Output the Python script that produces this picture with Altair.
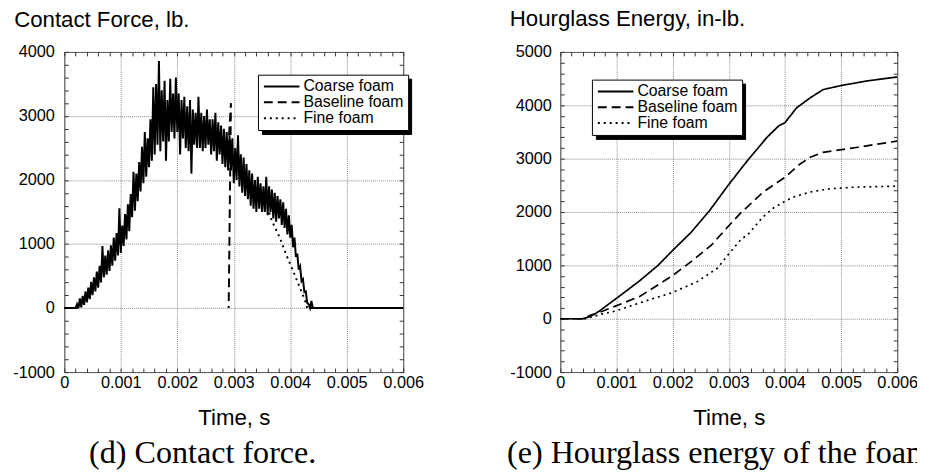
import altair as alt
import pandas as pd

SANS = "Liberation Sans, Arial, Helvetica, sans-serif"
SERIF = "Liberation Serif, Times New Roman, serif"
FRAME = "#333333"
GRID = "#8a8a8a"
TICK = 4

SERIES = ["Coarse foam", "Baseline foam", "Fine foam"]
SHADOW_ORDER = ["Fine foam", "Coarse foam", "Baseline foam"]
DASHES = [[1, 0], [9, 5], [2, 4]]

X_MAJOR = [0, 0.001, 0.002, 0.003, 0.004, 0.005, 0.006]
X_MINOR = [round(i * 0.0002, 4) for i in range(31)]

# ---------------- (d) Contact force, lb. ----------------
F_Y_MIN, F_Y_MAX = -1000, 4000
F_COARSE_T0, F_COARSE_DT = 0.0002, 0.000025
F_COARSE_V = [
    0, 60, 0, 150, 10, 190, 50, 260,
    90, 320, 140, 410, 200, 480, 260, 570,
    320, 660, 400, 970, 480, 820, 520, 900,
    580, 980, 660, 1100, 740, 1170, 820, 1560,
    860, 1290, 970, 1470, 1070, 1620, 1200, 1780,
    1420, 2130, 1520, 2100, 1670, 2280, 1820, 2520,
    1950, 2750, 2050, 2650, 2200, 2950, 2300, 3450,
    2400, 3500, 2550, 3860, 2450, 3400, 2600, 3550,
    2300, 3250, 2600, 3580, 2750, 3350, 2650, 3600,
    2750, 3350, 2400, 3250, 2650, 3300, 2500, 3150,
    2450, 3250, 2100, 3100, 2550, 3050, 2500, 3300,
    2500, 3050, 2450, 3000, 2500, 3100, 2550, 2950,
    2400, 2950, 2450, 3050, 2300, 2900, 2400, 2850,
    2250, 2800, 2200, 2750, 2150, 2700, 2150, 2650,
    1950, 2500, 2000, 2700, 1900, 2400, 1800, 2350,
    1750, 2250, 1700, 2150, 1600, 2100, 1550, 2000,
    1500, 2050, 1550, 1950, 1500, 1900, 1500, 2050,
    1450, 1900, 1500, 1850, 1400, 1800, 1350, 1750,
    1400, 1700, 1300, 1650, 1250, 1550, 1150, 1450,
    1100, 1300, 950, 1100, 800, 850, 600, 650,
    420, 450, 250, 260, 80, 60, 0, 110,
    0,
]
F_COARSE_T = [0.0] + [round(F_COARSE_T0 + i * F_COARSE_DT, 6) for i in range(len(F_COARSE_V))] + [0.006]
F_COARSE_V = [0] + F_COARSE_V + [0]

F_BASE_T = [0, 0.00022, 0.0004, 0.0006, 0.0008, 0.001, 0.0012, 0.0014, 0.0016, 0.0017,
            0.0018, 0.002, 0.0022, 0.0024, 0.0026, 0.0028, 0.0029, 0.00295, 0.00291]
F_BASE_V = [0, 0, 200, 480, 760, 1080, 1700, 2350, 2850, 3000,
            3000, 2950, 2850, 2780, 2700, 2550, 2450, 3200, 0]

F_FINE_T = [0, 0.00022, 0.0004, 0.0006, 0.0008, 0.001, 0.0012, 0.0014, 0.0016, 0.0018,
            0.002, 0.0022, 0.0024, 0.0026, 0.0028, 0.003, 0.0032, 0.0034, 0.00356, 0.00367,
            0.00382, 0.00393, 0.00405, 0.00417, 0.00426, 0.0043, 0.006]
F_FINE_V = [0, 0, 180, 450, 740, 1050, 1680, 2300, 2800, 2980,
            2900, 2820, 2760, 2680, 2560, 2300, 2000, 1800, 1700, 1370,
            1090, 830, 580, 320, 120, 0, 0]

# ---------------- (e) Hourglass energy, in-lb. ----------------
E_Y_MIN, E_Y_MAX = -1000, 5000
E_COARSE_T = [0, 0.0004, 0.0005, 0.0006, 0.00069, 0.00101, 0.0014, 0.00174, 0.002, 0.00233,
              0.00266, 0.00301, 0.00333, 0.00368, 0.00389, 0.004, 0.00421, 0.00445, 0.00468,
              0.00503, 0.0055, 0.006]
E_COARSE_V = [0, 0, 30, 80, 140, 390, 700, 1000, 1280, 1620,
              2030, 2530, 2960, 3400, 3615, 3675, 3955, 4140, 4295,
              4377, 4463, 4531]

E_BASE_T = [0, 0.00042, 0.00052, 0.00075, 0.00098, 0.00142, 0.00198, 0.00233, 0.00269,
            0.00298, 0.00321, 0.00362, 0.004, 0.00427, 0.00445, 0.00468, 0.00527, 0.006]
E_BASE_V = [0, 0, 60, 140, 236, 420, 795, 1070, 1380,
            1720, 1980, 2380, 2650, 2900, 3025, 3118, 3210, 3330]

E_FINE_T = [0, 0.00045, 0.00057, 0.00075, 0.00098, 0.00151, 0.00198, 0.00245, 0.0028,
            0.00301, 0.00321, 0.00336, 0.0036, 0.0038, 0.004, 0.00415, 0.00445, 0.0048,
            0.00527, 0.006]
E_FINE_V = [0, 0, 37, 90, 143, 330, 484, 700, 950,
            1227, 1476, 1600, 1900, 2080, 2200, 2280, 2375, 2436,
            2467, 2485]


def long_df(groups):
    rows = []
    for name, ts, vs in groups:
        for i, (t, v) in enumerate(zip(ts, vs)):
            rows.append({"t": t, "v": v, "series": name, "shadow": name, "ord": i})
    return pd.DataFrame(rows)


MAJOR_X = "abs(datum.value*1000 - round(datum.value*1000)) < 0.000001"
MAJOR_Y = "abs(datum.value % 1000) < 0.5"
LEGEND_FONT = 16
LABEL_OFFSET = 26
LABEL_W = 101  # width of the widest legend label ("Baseline foam") at LEGEND_FONT


def main_legend(lx, ly):
    return alt.Legend(
        orient="none", legendX=lx, legendY=ly, title=None, direction="vertical",
        fillColor="white", strokeColor="black", padding=4, rowPadding=0,
        labelFont=SANS, labelFontSize=LEGEND_FONT, labelColor="black",
        labelOffset=LABEL_OFFSET,
        symbolType="M-1,0H5", symbolSize=144, symbolStrokeWidth=2,
        symbolStrokeColor="black", zindex=2,
    )


def shadow_legend(lx, ly):
    return alt.Legend(
        orient="none", legendX=lx + 4, legendY=ly + 4, title=None, direction="vertical",
        fillColor="black", strokeColor="black", padding=4, rowPadding=0,
        labelFont=SANS, labelFontSize=LEGEND_FONT, labelColor="black",
        labelOffset=LABEL_OFFSET + LABEL_W, labelExpr="''",
        symbolType="M-1,0H5", symbolSize=144, symbolStrokeWidth=2,
        symbolStrokeColor="black", zindex=1,
    )


def panel(df, ymin, ymax, w, h, ytitle, title_y, label_pad_y, title_x,
          caption, caption_dx, lx, ly, line_w):
    y_minor = list(range(ymin, ymax + 1, 200))
    xs = alt.Scale(domain=[0, 0.006], nice=False, zero=False)
    ys = alt.Scale(domain=[ymin, ymax], nice=False, zero=False)

    x_axis = alt.Axis(
        orient="bottom", values=X_MINOR, domain=False, offset=-TICK, tickSize=TICK,
        tickColor=FRAME, tickWidth=1, grid=True, gridColor=GRID, gridDash=[1, 1], gridWidth=1,
        gridOpacity={"condition": {"test": MAJOR_X, "value": 1}, "value": 0},
        labelExpr=f"({MAJOR_X}) ? toString(datum.value) : ''",
        labelFont=SANS, labelFontSize=16.5, labelColor="black", labelPadding=3,
        labelOverlap=False, labelFlush=False,
        title="Time, s", titleFont=SANS, titleFontSize=22.5, titleFontWeight="normal",
        titleColor="black", titleBaseline="alphabetic", titleY=57,
    )
    y_axis = alt.Axis(
        orient="left", values=y_minor, domain=False, offset=-TICK, tickSize=TICK,
        tickColor=FRAME, tickWidth=1, grid=True, gridColor=GRID, gridDash=[1, 1], gridWidth=1,
        gridOpacity={"condition": {"test": MAJOR_Y, "value": 1}, "value": 0},
        labelExpr=f"({MAJOR_Y}) ? toString(datum.value) : ''",
        labelFont=SANS, labelFontSize=16.5, labelColor="black", labelPadding=label_pad_y,
        labelOverlap=False, labelFlush=False,
        title=ytitle, titleFont=SANS, titleFontSize=22.5, titleFontWeight="normal",
        titleColor="black", titleAngle=0, titleAlign="left", titleBaseline="alphabetic",
        titleX=title_x - TICK, titleY=title_y,
    )
    top_axis = alt.Axis(orient="top", values=X_MINOR, domain=False, offset=-TICK,
                        tickSize=TICK, tickColor=FRAME, tickWidth=1, labels=False,
                        grid=False, title=None)
    right_axis = alt.Axis(orient="right", values=y_minor, domain=False, offset=-TICK,
                          tickSize=TICK, tickColor=FRAME, tickWidth=1, labels=False,
                          grid=False, title=None)

    lines = alt.Chart(df).mark_line(strokeWidth=line_w, clip=True).encode(
        x=alt.X("t:Q", scale=xs, axis=x_axis),
        y=alt.Y("v:Q", scale=ys, axis=y_axis),
        strokeDash=alt.StrokeDash(
            "series:N", scale=alt.Scale(domain=SERIES, range=DASHES),
            legend=main_legend(lx, ly),
        ),
        color=alt.Color(
            "shadow:N", scale=alt.Scale(domain=SHADOW_ORDER, range=["black", "black", "black"]),
            legend=shadow_legend(lx, ly),
        ),
        order=alt.Order("ord:Q"),
    )
    frame_ticks = alt.Chart(df).mark_line(strokeOpacity=0).encode(
        x=alt.X("t:Q", scale=xs, axis=top_axis),
        y=alt.Y("v:Q", scale=ys, axis=right_axis),
    )
    return alt.layer(lines, frame_ticks).resolve_axis(
        x="independent", y="independent"
    ).properties(
        width=w, height=h,
        title=alt.TitleParams(
            text=caption, orient="bottom", anchor="start", frame="group", dx=caption_dx,
            offset=9, font=SERIF, fontSize=32.5, fontWeight="normal", color="black",
        ),
    )


force_df = long_df([
    ("Coarse foam", F_COARSE_T, F_COARSE_V),
    ("Baseline foam", F_BASE_T, F_BASE_V),
    ("Fine foam", F_FINE_T, F_FINE_V),
])
energy_df = long_df([
    ("Coarse foam", E_COARSE_T, E_COARSE_V),
    ("Baseline foam", E_BASE_T, E_BASE_V),
    ("Fine foam", E_FINE_T, E_FINE_V),
])

left = panel(force_df, F_Y_MIN, F_Y_MAX, 343, 324, "Contact Force, lb.", -26, 10, -51.3,
             "(d) Contact force.", 25, 196, 23, 2.0)
right = panel(energy_df, E_Y_MIN, E_Y_MAX, 341, 324, "Hourglass Energy, in-lb.", -27, 9, -51.7,
              "(e) Hourglass energy of the foam.", -54, 32, 28, 1.7)

chart = alt.hconcat(left, right, spacing=82).resolve_scale(
    strokeDash="independent", color="independent"
).resolve_legend(
    strokeDash="independent", color="independent"
).properties(
    padding={"left": 4, "top": -4.3, "right": -23, "bottom": -4},
    background="white",
).configure_view(
    stroke=FRAME, strokeWidth=1
).configure_legend(
    strokeWidth=1, cornerRadius=0
)

chart.save("out.html", embed_options={"renderer": "svg", "actions": False})
